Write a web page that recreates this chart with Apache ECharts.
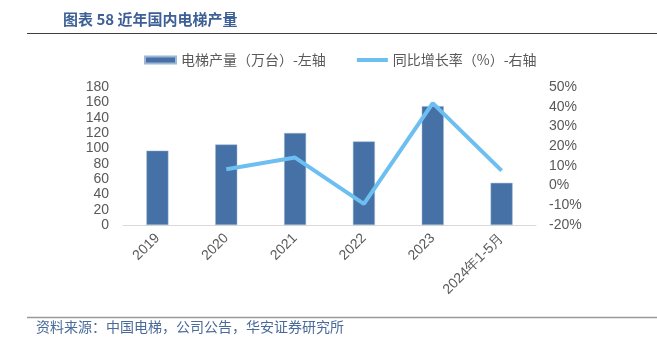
<!DOCTYPE html>
<html>
<head>
<meta charset="utf-8">
<script src="https://cdn.jsdelivr.net/npm/echarts@6/dist/echarts.min.js"></script>
<style>
  html, body { margin: 0; padding: 0; background: #fff; }
  #chart { width: 657px; height: 345px; }
</style>
</head>
<body>
<div id="chart"></div>
<script>
// Domestic elevator output (10k units) and year-on-year growth (%)
const categories = ['2019', '2020', '2021', '2022', '2023', '2024年1-5月'];
const outputValues = [97, 105, 120, 109, 155, 55];
const growthValues = [null, 8.3, 14.2, -9.3, 41.8, 7.6];
const leftTicks = { min: 0, max: 180, interval: 20 };
const rightTicks = { min: -20, max: 50, interval: 10 };

const chart = echarts.init(document.getElementById('chart'));
const labelColor = '#595959';
const fontFamily = 'Liberation Sans, Arial, sans-serif';
const barColor = '#4571a6';
const lineColor = '#6cbff0';

chart.setOption({
  animation: false,
  backgroundColor: '#fff',
  graphic: [
    { type: 'text', left: 63, top: 12,
      style: { text: '图表 58 近年国内电梯产量', fill: '#3d6096', font: 'bold 15px "Noto Sans CJK SC", sans-serif' } },
    { type: 'line', shape: { x1: 27, y1: 33.5, x2: 657, y2: 33.5 }, style: { stroke: '#404040', lineWidth: 1 } },
    { type: 'line', shape: { x1: 27, y1: 317.5, x2: 657, y2: 317.5 }, style: { stroke: '#9a9a9a', lineWidth: 1.5 } },
    { type: 'text', left: 36, top: 320,
      style: { text: '资料来源：中国电梯，公司公告，华安证券研究所', fill: '#4a6a9a', font: '14px "Noto Sans CJK SC", sans-serif' } }
  ],
  legend: {
    top: 48,
    left: 139,
    itemGap: 29,
    itemHeight: 7,
    itemWidth: 31,
    textStyle: { color: labelColor, fontSize: 14, fontFamily: '"Noto Sans CJK SC", sans-serif' },
    data: [
      { name: '电梯产量（万台）-左轴', icon: 'rect', itemStyle: { color: barColor } },
      { name: '同比增长率（%）-右轴', itemStyle: { opacity: 0 }, lineStyle: { color: lineColor, width: 4 } }
    ]
  },
  grid: { left: 123, right: 121, top: 87, bottom: 120 },
  xAxis: {
    type: 'category',
    data: categories,
    axisLine: { lineStyle: { color: '#d9d9d9', width: 1 } },
    axisTick: { show: false },
    axisLabel: { color: labelColor, fontSize: 14, fontFamily: fontFamily, rotate: 45, margin: 11, interval: 0 }
  },
  yAxis: [
    {
      type: 'value', min: leftTicks.min, max: leftTicks.max, interval: leftTicks.interval,
      splitLine: { show: false }, axisLine: { show: false }, axisTick: { show: false },
      axisLabel: { color: labelColor, fontSize: 14, fontFamily: fontFamily, margin: 14 }
    },
    {
      type: 'value', min: rightTicks.min, max: rightTicks.max, interval: rightTicks.interval,
      splitLine: { show: false }, axisLine: { show: false }, axisTick: { show: false },
      axisLabel: { color: labelColor, fontSize: 14, fontFamily: fontFamily, margin: 13, formatter: '{value}%' }
    }
  ],
  series: [
    {
      name: '电梯产量（万台）-左轴',
      type: 'bar',
      yAxisIndex: 0,
      data: outputValues,
      barWidth: 22,
      itemStyle: { color: barColor, borderColor: '#9fb6d4', borderWidth: 0.5 }
    },
    {
      name: '同比增长率（%）-右轴',
      type: 'line',
      yAxisIndex: 1,
      data: growthValues,
      symbol: 'none',
      connectNulls: false,
      lineStyle: { color: lineColor, width: 4 },
      itemStyle: { color: lineColor }
    }
  ]
});
</script>
</body>
</html>
